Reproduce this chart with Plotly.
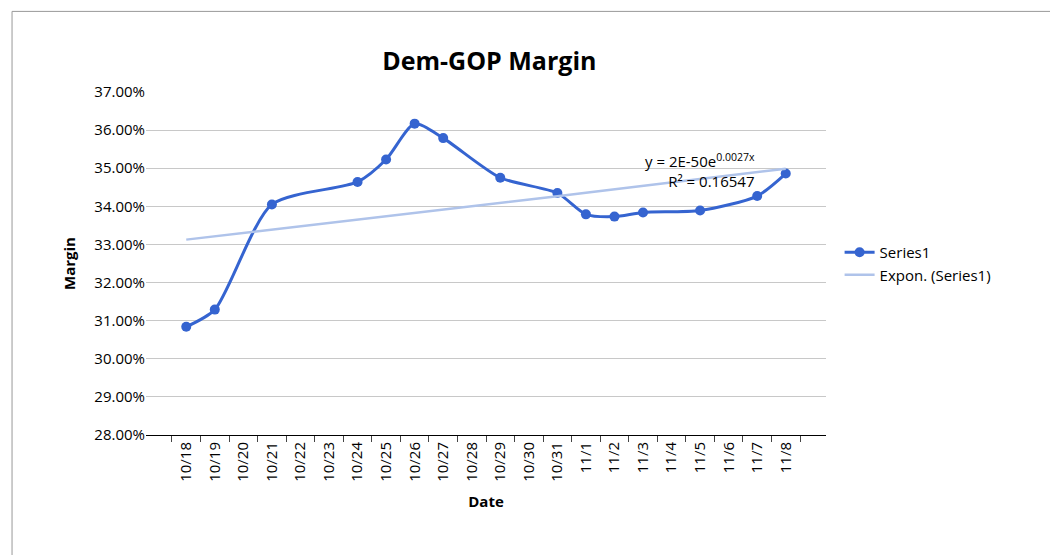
import numpy as np
import plotly.graph_objects as go

dates = ["10/18", "10/19", "10/20", "10/21", "10/22", "10/23", "10/24", "10/25", "10/26", "10/27", "10/28",
         "10/29", "10/30", "10/31", "11/1", "11/2", "11/3", "11/4", "11/5", "11/6", "11/7", "11/8"]
margin = [0.3084, 0.3129, None, 0.3405, None, None, 0.3464, 0.3523, 0.3617, 0.3579, None,
          0.3475, None, 0.3435, 0.3379, 0.3373, 0.3384, None, 0.3389, None, 0.3427, 0.3486]

# exponential trendline fitted to the points
idx = np.array([i for i, v in enumerate(margin) if v is not None])
vals = np.array([v for v in margin if v is not None])
b, a = np.polyfit(idx, np.log(vals), 1)
trend = np.exp(a + b * np.arange(len(dates)))

fig = go.Figure()
fig.add_trace(go.Scatter(x=dates, y=margin, mode="lines+markers", name="Series1", connectgaps=True,
                         line=dict(color="#3564D0", width=3, shape="spline", smoothing=0.7),
                         marker=dict(size=10, color="#3564D0")))
fig.add_trace(go.Scatter(x=dates, y=trend, mode="lines", name="Expon. (Series1)",
                         line=dict(color="#AFC3EA", width=2.5)))

fig.add_annotation(x="11/3", y=0.3495, xref="x", yref="y", showarrow=False, xanchor="left",
                   text="y = 2E-50e<sup>0.0027x</sup><br>R² = 0.16547", align="right",
                   font=dict(size=15, color="black"))

fig.update_layout(
    width=1058, height=555, paper_bgcolor="white", plot_bgcolor="white",
    font=dict(family="Open Sans", color="black", size=15),
    title=dict(text="<b>Dem-GOP Margin</b>", x=0.455, xanchor="center", y=0.92, font=dict(size=25)),
    margin=dict(l=138, r=240, t=84, b=128),
    legend=dict(x=1.02, y=0.5, yanchor="middle", font=dict(size=15), tracegroupgap=20),
    shapes=[dict(type="rect", xref="paper", yref="paper", x0=-0.197, x1=1.345, y0=-0.37, y1=1.235,
                 line=dict(color="#999999", width=1))],
)
fig.update_xaxes(type="category", tickangle=-90, ticks="outside", tickson="boundaries", ticklen=6,
                 showline=True, linecolor="black", showgrid=False,
                 title=dict(text="<b>Date</b>", font=dict(size=15)))
fig.update_yaxes(range=[0.28, 0.37], dtick=0.01, tickformat=".2%", showgrid=True, gridcolor="#C8C8C8",
                 zeroline=False, title=dict(text="<b>Margin</b>", font=dict(size=15)))
fig.write_html("out.html")
